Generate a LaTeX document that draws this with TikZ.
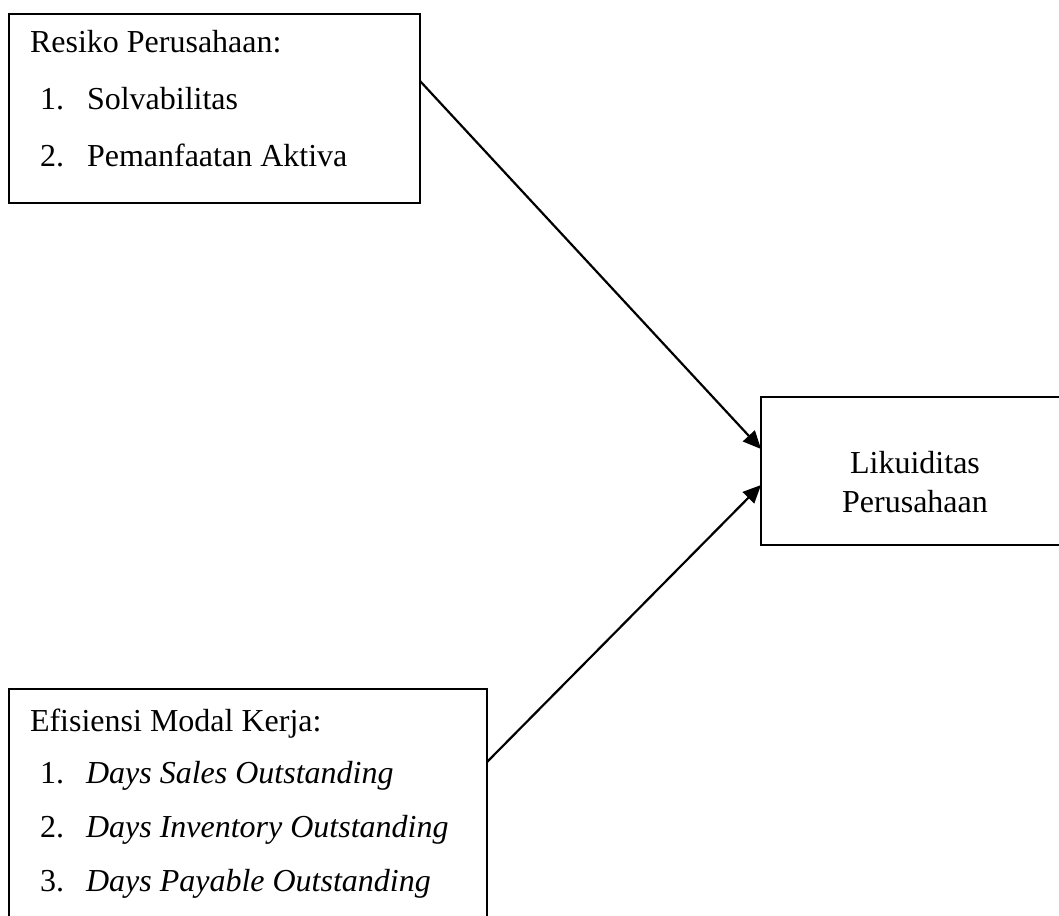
\documentclass[tikz,border=0pt]{standalone}
\usepackage{fontspec}
\setmainfont{Liberation Serif}
\usetikzlibrary{arrows.meta}

\begin{document}
\begin{tikzpicture}
  [x=0.5pt,y=-0.5pt,
   every node/.style={inner sep=0pt,outer sep=0pt,font=\fontsize{16pt}{19.5pt}\selectfont},
   box/.style={draw,rectangle,line width=1pt},
   txt/.style={anchor=base west},
   mid/.style={anchor=base},
   arrow/.style={line width=1.1pt,-{Triangle[length=9pt,width=8pt]}}]

  \useasboundingbox (0,0) rectangle (1059,915);
  \clip (0,0) rectangle (1059,915);

  % kotak
  \node [box,minimum width=205.5pt,minimum height=94.5pt] (resiko) at (214.5,108.5) {};
  \node [box,minimum width=154pt,minimum height=74pt] (likuid) at (915,471) {};
  \node [box,minimum width=239pt,minimum height=128pt] (modal) at (248,817) {};

  % isi kotak
  \node [txt] (resikoT) at (30,53) {Resiko Perusahaan:};
  \foreach \i/\y/\t in {1/110/Solvabilitas,2/166/Pemanfaatan Aktiva}
    {\node [txt] (rn\i) at (40,\y) {\i.};
     \node [txt] (r\i) at (87,\y) {\t};}

  \node [mid] (likuidA) at (915,473) {Likuiditas};
  \node [mid] (likuidB) at (915,512) {Perusahaan};

  \node [txt] (modalT) at (30,731) {Efisiensi Modal Kerja:};
  \foreach \i/\y/\t in {1/783/Days Sales Outstanding,2/837/Days Inventory Outstanding,3/891/Days Payable Outstanding}
    {\node [txt] (mn\i) at (40,\y) {\i.};
     \node [txt] (m\i) at (86,\y) {\itshape \t};}

  % panah
  \draw [arrow] ([yshift=13.75pt]resiko.east) -- ([yshift=11pt]likuid.west);
  \draw [arrow] ([yshift=27.5pt]modal.east) -- ([yshift=-7pt]likuid.west);
\end{tikzpicture}
\end{document}
